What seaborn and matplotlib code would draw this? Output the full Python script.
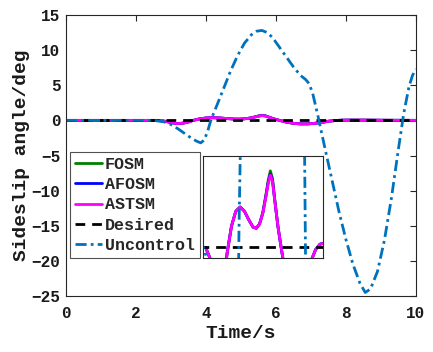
import matplotlib
matplotlib.use("Agg")
import matplotlib.pyplot as plt
import seaborn as sns
import pandas as pd

sns.set_theme(style="white")
plt.rcParams['font.family'] = ['Liberation Mono', 'DejaVu Sans']
plt.rcParams['font.weight'] = 'bold'

# Uncontrolled sideslip response
t_unc = [0, 1, 2, 2.5, 2.8, 3.0, 3.2, 3.4, 3.6, 3.75, 3.85, 3.95, 4.05, 4.15, 4.3, 4.5, 4.7,
         4.9, 5.1, 5.3, 5.45, 5.6, 5.75, 5.9, 6.1, 6.3, 6.5, 6.7, 6.85, 6.95, 7.05, 7.2,
         7.4, 7.6, 7.8, 8.0, 8.2, 8.4, 8.55, 8.7, 8.9, 9.1, 9.3, 9.5, 9.65, 9.8, 9.9, 10]
y_unc = [0, 0, 0, 0, -0.2, -0.6, -1.2, -1.9, -2.6, -3.0, -3.2, -2.8, -1.5, 0.2, 2.0, 4.5, 7.0,
         9.2, 11.0, 12.2, 12.7, 12.8, 12.5, 11.8, 10.4, 9.0, 7.6, 6.4, 5.8, 5.2, 3.8, 0.6,
         -4.0, -8.5, -13.0, -17.0, -20.5, -23.2, -24.5, -24.0, -21.5, -17.0, -11.0, -4.0, 1.0, 4.8, 6.4, 7.3]

# Controlled responses
t_ctl = [0, 1, 2, 2.6, 2.8, 3.0, 3.15, 3.3, 3.45, 3.6, 3.8, 4.0, 4.2, 4.4, 4.6, 4.8, 4.95,
         5.1, 5.25, 5.4, 5.5, 5.6, 5.7, 5.8, 5.95, 6.1, 6.3, 6.5, 6.7, 6.9, 7.1, 7.3,
         7.5, 7.7, 7.9, 8.1, 8.5, 9, 10]
y_astsm = [0, 0, 0, 0, -0.1, -0.3, -0.45, -0.42, -0.3, -0.05, 0.2, 0.34, 0.38, 0.34, 0.26, 0.19, 0.18,
           0.22, 0.32, 0.48, 0.6, 0.68, 0.62, 0.45, 0.2, 0.0, -0.25, -0.42, -0.5, -0.5, -0.42, -0.3,
           -0.12, -0.02, 0.03, 0.04, 0.04, 0.02, 0.0]
y_fosm = [0, 0, 0, 0, -0.1, -0.3, -0.45, -0.42, -0.3, -0.05, 0.2, 0.34, 0.38, 0.34, 0.26, 0.19, 0.18,
          0.22, 0.33, 0.5, 0.63, 0.72, 0.65, 0.46, 0.2, 0.0, -0.25, -0.42, -0.5, -0.5, -0.42, -0.3,
          -0.12, -0.02, 0.03, 0.04, 0.04, 0.02, 0.0]
y_afosm = [0, 0, 0, 0, -0.1, -0.3, -0.45, -0.42, -0.3, -0.05, 0.2, 0.34, 0.38, 0.34, 0.26, 0.19, 0.18,
           0.22, 0.32, 0.49, 0.61, 0.69, 0.63, 0.45, 0.2, 0.0, -0.25, -0.42, -0.5, -0.5, -0.42, -0.3,
           -0.12, -0.02, 0.03, 0.04, 0.04, 0.02, 0.0]
t_des = [0, 10]
y_des = [0, 0]

xticks = [0, 2, 4, 6, 8, 10]
yticks = [-25, -20, -15, -10, -5, 0, 5, 10, 15]

df_ctl = pd.DataFrame({"t": t_ctl, "FOSM": y_fosm, "AFOSM": y_afosm, "ASTSM": y_astsm})
df_unc = pd.DataFrame({"t": t_unc, "y": y_unc})
df_des = pd.DataFrame({"t": t_des, "y": y_des})

c_unc = "#0072BD"
fig = plt.figure(figsize=(4.33, 3.52), dpi=100)
ax = fig.add_axes([66/433, 1 - 296/352, 350/433, 281/352])


def draw(a, lw=2.0):
    sns.lineplot(data=df_ctl, x="t", y="FOSM", ax=a, color="#008000", lw=lw, label="FOSM")
    sns.lineplot(data=df_ctl, x="t", y="AFOSM", ax=a, color="#0000FF", lw=lw, label="AFOSM")
    sns.lineplot(data=df_ctl, x="t", y="ASTSM", ax=a, color="#FF00FF", lw=lw, label="ASTSM")
    sns.lineplot(data=df_des, x="t", y="y", ax=a, color="black", lw=lw, ls=(0, (3.5, 2.5)), label="Desired")
    sns.lineplot(data=df_unc, x="t", y="y", ax=a, color=c_unc, lw=lw, ls=(0, (4, 1.5, 1, 1.5)), label="Uncontrol")


draw(ax)
ax.set_xlim(0, 10)
ax.set_ylim(-25, 15)
ax.set_xticks(xticks)
ax.set_yticks(yticks)
ax.tick_params(direction="in", top=True, right=True, length=4, width=0.8, labelsize=11.5,
               colors="#262626", labelcolor="#1a1a1a", pad=4)
ax.tick_params(axis="x", pad=7)
for lab in ax.get_xticklabels() + ax.get_yticklabels():
    lab.set_fontweight("bold")
for s in ax.spines.values():
    s.set_color("#262626")
    s.set_linewidth(0.8)
ax.set_xlabel("Time/s", fontsize=14, fontweight="bold", color="#1a1a1a", labelpad=3)
ax.set_ylabel("Sideslip angle/deg", fontsize=14, fontweight="bold", color="#1a1a1a", labelpad=1)

leg = ax.legend(loc="lower left", bbox_to_anchor=(4/350, 38/281), fontsize=12,
                frameon=True, fancybox=False, edgecolor="#262626", handlelength=1.6,
                handletextpad=0.2, borderpad=0.3, labelspacing=0.32, borderaxespad=0)
leg.get_frame().set_linewidth(0.8)
for tx in leg.get_texts():
    tx.set_fontweight("bold")

ins = ax.inset_axes([137/350, 38/281, 120/350, 102/281])
draw(ins)
if ins.get_legend():
    ins.get_legend().remove()
ins.set_xlim(2.48, 8.04)
ins.set_ylim(-0.1, 0.86)
ins.set_xticks([])
ins.set_yticks([])
ins.set_xlabel("")
ins.set_ylabel("")
for s in ins.spines.values():
    s.set_color("#262626")
    s.set_linewidth(0.8)

fig.savefig("out.png", dpi=100)
